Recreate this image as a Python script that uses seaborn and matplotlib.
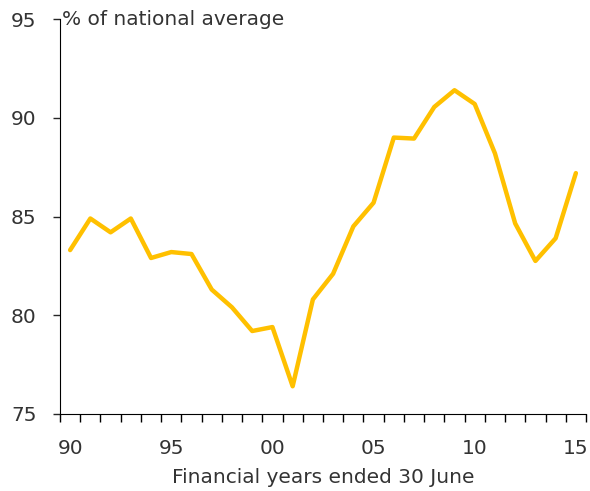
import matplotlib.pyplot as plt
import matplotlib.ticker as mticker
import seaborn as sns
import pandas as pd

# Données
years = list(range(1990, 2016))
values = [83.3, 84.9, 84.2, 84.9, 82.9, 83.2, 83.1, 81.3, 80.4, 79.2,
          79.4, 76.4, 80.8, 82.1, 84.5, 85.7, 89.0, 88.95, 90.55, 91.4,
          90.7, 88.2, 84.65, 82.75, 83.9, 87.2]
x_tick_years = [1990, 1995, 2000, 2005, 2010, 2015]
x_tick_labels = ['90', '95', '00', '05', '10', '15']
y_ticks = [75, 80, 85, 90, 95]

data = pd.DataFrame({'Year': years, 'Value': values})

sns.set_style("ticks")
plt.rcParams['font.family'] = ['DejaVu Sans']

fig = plt.figure(figsize=(5.9, 4.91), dpi=100)
ax = fig.add_axes([0.1017, 0.157, 0.8915, 0.804])

sns.lineplot(data=data, x='Year', y='Value', color='#FFC000', linewidth=3.2, ax=ax)

ax.set_xlim(1989.5, 2015.5)
ax.set_ylim(75, 95)
ax.set_xticks(x_tick_years)
ax.set_xticklabels(x_tick_labels)
ax.xaxis.set_minor_locator(mticker.FixedLocator([1989.5 + k for k in range(27)]))
ax.tick_params(axis='x', which='major', length=0, pad=18, labelsize=14.5, colors='#333333')
ax.tick_params(axis='x', which='minor', length=6, width=1, direction='out', color='black')
ax.set_yticks(y_ticks)
ax.tick_params(axis='y', length=5, width=1, pad=12, labelsize=14.5, labelcolor='#333333')

sns.despine(ax=ax)
ax.spines['left'].set_color('black')
ax.spines['bottom'].set_color('black')

ax.set_xlabel("Financial years ended 30 June", fontsize=14.5, color='#333333', labelpad=7)
ax.set_ylabel("")
ax.text(1989.62, 95, "% of national average", fontsize=14.5, color='#333333',
        va='center', ha='left')

fig.savefig("out.png", dpi=100)
plt.close()
